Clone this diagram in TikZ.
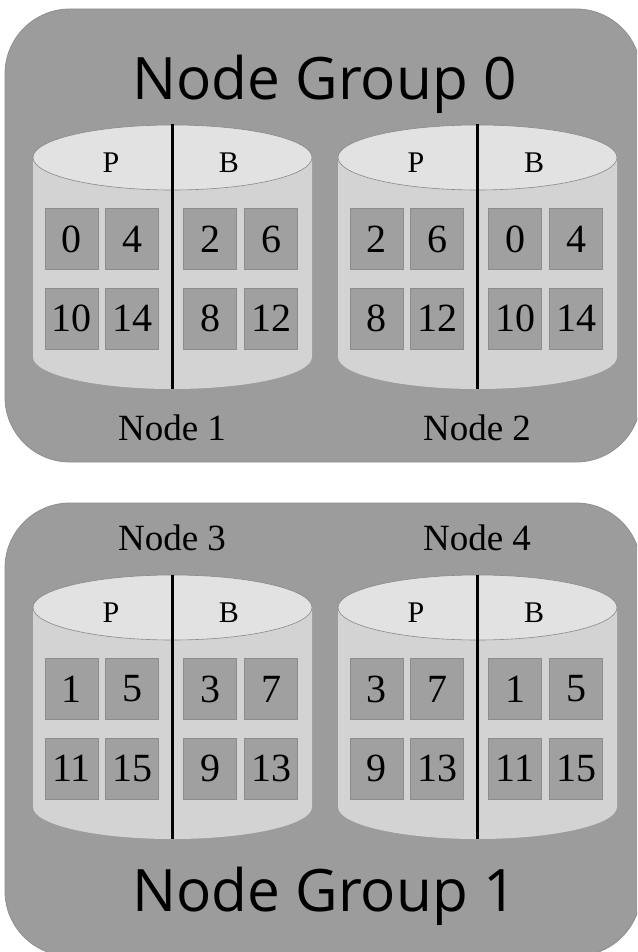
\documentclass[tikz,border=0pt]{standalone}
\usepackage{fontspec}
\setmainfont{Liberation Serif}
\newfontfamily\grpfont{Open Sans}
\definecolor{grpgray}{HTML}{9C9C9C}
\definecolor{grpedge}{HTML}{8E8E8E}
\definecolor{cellgray}{HTML}{A0A0A0}
\definecolor{celledge}{HTML}{8C8C8C}
\definecolor{bodygray}{HTML}{D3D3D3}
\definecolor{topgray}{HTML}{E2E2E2}
\definecolor{topedge}{HTML}{8A8A8A}
\tikzset{
  x=1pt, y=-1pt,
  grpbox/.style={fill=grpgray, draw=grpedge, line width=0.8pt, rounded corners=65pt},
  cellbox/.style={fill=cellgray, draw=celledge, line width=0.7pt, minimum width=53pt, minimum height=61pt, inner sep=0pt, font=\fontsize{40}{48}\selectfont},
  pblabel/.style={anchor=base, inner sep=0pt, font=\fontsize{30}{36}\selectfont},
  nodelabel/.style={anchor=base, inner sep=0pt, font=\fontsize{37}{44}\selectfont},
  grplabel/.style={anchor=base, inner sep=0pt, font=\grpfont\fontsize{58.5}{70}\selectfont},
  divider/.style={line width=3.5pt, black},
}
% #1 name, #2..#5 P cells (r1c1 r1c2 r2c1 r2c2), #6..#9 B cells
\newcommand\mycyl[9]{%
  \fill[bodygray] (33,157.5) -- (33,357) arc[start angle=180, end angle=0, x radius=139.5, y radius=32] -- (312,157.5) -- cycle;
  \filldraw[fill=topgray, draw=topedge, line width=0.6pt] (172.5,157.5) ellipse [x radius=139.5, y radius=32.5];
  \node[pblabel] (#1-P) at (111,172) {P};
  \node[pblabel] (#1-B) at (229,172) {B};
  \node[cellbox] (#1-a) at (71.5,239) {#2};
  \node[cellbox] (#1-b) at (132,239) {#3};
  \node[cellbox] (#1-c) at (71.5,318.5) {#4};
  \node[cellbox] (#1-d) at (132,318.5) {#5};
  \node[cellbox] (#1-e) at (210,239) {#6};
  \node[cellbox] (#1-f) at (271,239) {#7};
  \node[cellbox] (#1-g) at (210,318.5) {#8};
  \node[cellbox] (#1-h) at (271,318.5) {#9};
  \coordinate (#1-top) at (172.5,124.5);
  \coordinate (#1-bot) at (172.5,389);
  \draw[divider] (#1-top) -- (#1-bot);
}
\begin{document}
\begin{tikzpicture}
\useasboundingbox (0,0) rectangle (637,952);
\clip (0,0) rectangle (637,952);
\fill[white] (0,0) rectangle (637,952);
% group boxes
\draw[grpbox] (5,9) rectangle (641,462);
\draw[grpbox] (5,503) rectangle (641,956);
% group 0
\node[grplabel] (g0) at (324.5,100) {Node Group 0};
\begin{scope}
  \mycyl{n1}{0}{4}{10}{14}{2}{6}{8}{12}
\end{scope}
\begin{scope}[shift={(305,0)}]
  \mycyl{n2}{2}{6}{8}{12}{0}{4}{10}{14}
\end{scope}
\node[nodelabel] (l1) at (172,440) {Node 1};
\node[nodelabel] (l2) at (477,440) {Node 2};
% group 1
\node[nodelabel] (l3) at (172,550) {Node 3};
\node[nodelabel] (l4) at (477,550) {Node 4};
\begin{scope}[shift={(0,450)}]
  \mycyl{n3}{1}{5}{11}{15}{3}{7}{9}{13}
\end{scope}
\begin{scope}[shift={(305,450)}]
  \mycyl{n4}{3}{7}{9}{13}{1}{5}{11}{15}
\end{scope}
\node[grplabel] (g1) at (324.5,911) {Node Group 1};
\end{tikzpicture}
\end{document}
